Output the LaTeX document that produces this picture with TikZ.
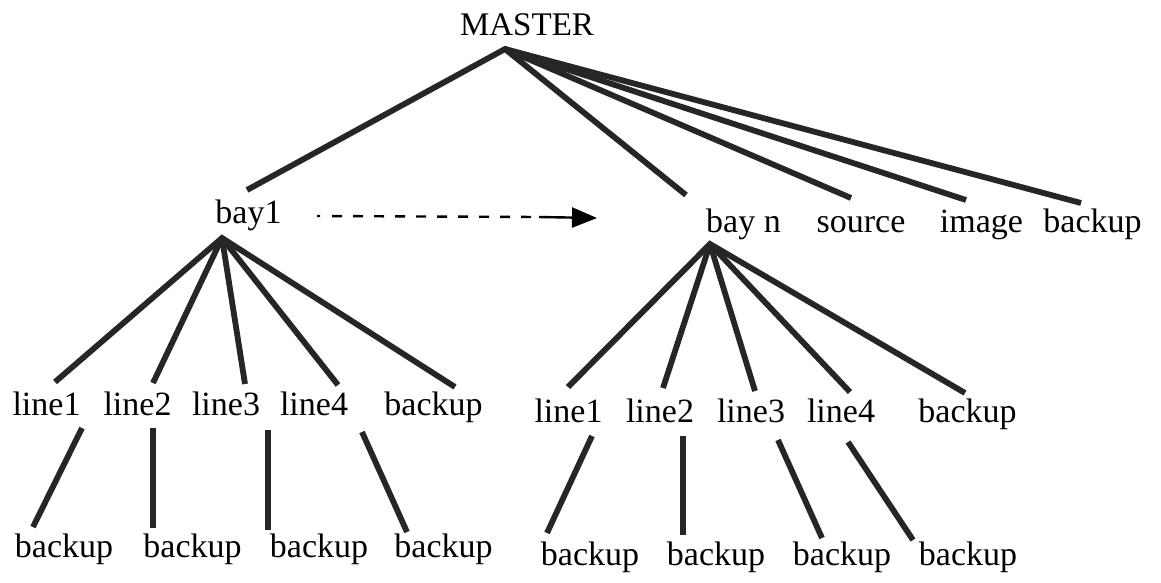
\documentclass[tikz,border=0pt]{standalone}
\usepackage{fontspec}
\setmainfont{Liberation Serif}
\usetikzlibrary{arrows.meta}
\begin{document}
\begin{tikzpicture}[x=1pt,y=-1pt,
  lbl/.style={anchor=base,inner sep=0pt,font=\fontsize{34}{40}\selectfont},
  edge/.style={draw=black!85,line width=5.8pt,line join=miter},
  flow/.style={draw=black,line width=2.4pt}]
\fill[white] (0,0) rectangle (1161,582);
\useasboundingbox (0,0) rectangle (1161,582);

% ---- labels ----
\node[lbl,font=\fontsize{33}{40}\selectfont] (master) at (527,35) {MASTER};
\node[lbl] (bay1)  at (248.5,223) {bay1};
\node[lbl] (bayn)  at (743.5,232) {bay n};
\node[lbl] (src)   at (861,232)   {source};
\node[lbl] (img)   at (981.5,232) {image};
\node[lbl] (mbak)  at (1092.5,232) {backup};

\node[lbl] (La) at (46.5,415)  {line1};
\node[lbl] (Lb) at (137.5,415) {line2};
\node[lbl] (Lc) at (226,415)   {line3};
\node[lbl] (Ld) at (314,415)   {line4};
\node[lbl] (Lk) at (433.5,415) {backup};
\node[lbl] (La2) at (64,557)   {backup};
\node[lbl] (Lb2) at (192.5,557) {backup};
\node[lbl] (Lc2) at (319,557)  {backup};
\node[lbl] (Ld2) at (443.5,557) {backup};

\node[lbl] (Ra) at (568.5,422) {line1};
\node[lbl] (Rb) at (660,422)   {line2};
\node[lbl] (Rc) at (751,422)   {line3};
\node[lbl] (Rd) at (841,422)   {line4};
\node[lbl] (Rk) at (967.5,422) {backup};
\node[lbl] (Ra2) at (590,565)  {backup};
\node[lbl] (Rb2) at (716,565)  {backup};
\node[lbl] (Rc2) at (842,565)  {backup};
\node[lbl] (Rd2) at (968,565)  {backup};

% ---- attachment points ----
\coordinate (master-o) at (505,49);
\coordinate (bay1-i) at (247,190);
\coordinate (bayn-i) at (686,195);
\coordinate (src-i)  at (851,198);
\coordinate (img-i)  at (966,200);
\coordinate (mbak-i) at (1081,203);

\coordinate (bay1-o) at (222,238);
\coordinate (La-i) at (55,382);
\coordinate (Lb-i) at (153,383);
\coordinate (Lc-i) at (245,384);
\coordinate (Ld-i) at (338,385);
\coordinate (Lk-i) at (455,387);
\coordinate (La-o) at (82,428);  \coordinate (La2-i) at (33,527);
\coordinate (Lb-o) at (153,428); \coordinate (Lb2-i) at (153,528);
\coordinate (Lc-o) at (268,430); \coordinate (Lc2-i) at (268,530);
\coordinate (Ld-o) at (362,432); \coordinate (Ld2-i) at (407,532);

\coordinate (bayn-o) at (710,244);
\coordinate (Ra-i) at (568,387);
\coordinate (Rb-i) at (663,388);
\coordinate (Rc-i) at (755,391);
\coordinate (Rd-i) at (850,392);
\coordinate (Rk-i) at (965,393);
\coordinate (Ra-o) at (592,436); \coordinate (Ra2-i) at (547,533);
\coordinate (Rb-o) at (683,436); \coordinate (Rb2-i) at (683,535);
\coordinate (Rc-o) at (778,440); \coordinate (Rc2-i) at (822,538);
\coordinate (Rd-o) at (848,442); \coordinate (Rd2-i) at (913,540);

% ---- tree edges ----
\draw[edge] (bay1-i) -- (master-o) -- (mbak-i);
\draw[edge] (master-o) -- (bayn-i);
\draw[edge] (master-o) -- (src-i);
\draw[edge] (master-o) -- (img-i);

\draw[edge] (La-i) -- (bay1-o) -- (Lk-i);
\foreach \c in {Lb,Lc,Ld} \draw[edge] (bay1-o) -- (\c-i);
\foreach \c in {La,Lb,Lc,Ld} \draw[edge] (\c-o) -- (\c2-i);

\draw[edge] (Ra-i) -- (bayn-o) -- (Rk-i);
\foreach \c in {Rb,Rc,Rd} \draw[edge] (bayn-o) -- (\c-i);
\foreach \c in {Ra,Rb,Rc,Rd} \draw[edge] (\c-o) -- (\c2-i);

% ---- dashed continuation arrow ----
\coordinate (bay1-r) at (317,216);
\coordinate (flow-m) at (539,217);
\coordinate (flow-e) at (597,218);
\draw[flow,dash pattern=on 3pt off 12pt on 10pt off 11pt on 10pt off 11pt on 10pt off 11pt on 10pt off 11pt on 10pt off 11pt on 10pt off 11pt on 10pt off 11pt on 10pt off 11pt on 10pt off 11pt on 10pt off 11pt on 10pt off 11pt]
  (bay1-r) -- (flow-m);
\draw[flow,-{Triangle[length=25pt,width=20pt]}] (flow-m) -- (flow-e);
\end{tikzpicture}
\end{document}
